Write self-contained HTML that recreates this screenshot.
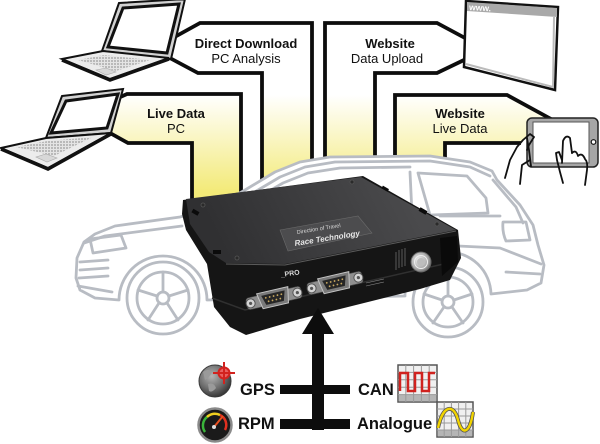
<!DOCTYPE html>
<html><head><meta charset="utf-8">
<style>
html,body{margin:0;padding:0;background:#fff;}
svg{display:block;}
text{font-family:"Liberation Sans",Arial,sans-serif;}
</style></head><body>
<svg width="600" height="444" viewBox="0 0 600 444" xmlns="http://www.w3.org/2000/svg">
<defs>
<linearGradient id="yel" gradientUnits="userSpaceOnUse" x1="0" y1="95" x2="0" y2="192">
<stop offset="0" stop-color="#ffffff"/>
<stop offset="1" stop-color="#f3ea78"/>
</linearGradient>
<linearGradient id="topg" gradientUnits="userSpaceOnUse" x1="400" y1="180" x2="230" y2="265">
<stop offset="0" stop-color="#4a4a4c"/>
<stop offset="1" stop-color="#303032"/>
</linearGradient>
<radialGradient id="globe" cx="0.4" cy="0.35" r="0.7">
<stop offset="0" stop-color="#b5b5b5"/>
<stop offset="0.6" stop-color="#6a6a6a"/>
<stop offset="1" stop-color="#2e2e2e"/>
</radialGradient>
<radialGradient id="btn" cx="0.4" cy="0.4" r="0.7">
<stop offset="0" stop-color="#f2f2f2"/>
<stop offset="0.7" stop-color="#a0a0a0"/>
<stop offset="1" stop-color="#555"/>
</radialGradient>
<pattern id="kb" width="3" height="3" patternUnits="userSpaceOnUse">
<rect width="3" height="3" fill="#e4e4e4"/><rect width="2" height="2" fill="#b9b9b9"/>
</pattern>
</defs>

<rect width="600" height="444" fill="#fff"/>

<!-- pipes fill -->
<g fill="url(#yel)">
<path d="M170,40 L200,23 L312,23 L312,240 L262,240 L262,73 L198,73 L168,57 Z"/>
<path d="M118,98 L127,94 L241,94 L241,240 L192,240 L192,143 L128,143 L110,133 Z"/>
<path d="M325,240 L325,23 L437,23 L465,38 L465,60 L437,73 L375,73 L375,240 Z"/>
<path d="M395,240 L395,95 L507,95 L550,118 L527,138 L519,143 L445,143 L445,240 Z"/>
</g>
<g fill="none" stroke="#0d0d0d" stroke-width="3.8" stroke-linejoin="miter">
<polyline points="171,39 200,23 312,23 312,240"/>
<polyline points="168,57 198,73 262,73 262,240"/>
<polyline points="118,98 127,94 241,94 241,240"/>
<polyline points="110,133 128,143 192,143 192,240"/>
<polyline points="325,240 325,23 437,23 465,38"/>
<polyline points="375,240 375,73 437,73 464,60"/>
<polyline points="395,240 395,95 507,95 551,119"/>
<polyline points="445,240 445,143 521,143"/>
</g>

<!-- top laptop -->
<polygon points="119,3 185,-1 171,59 102,51" fill="#d2d2d2" stroke="#111" stroke-width="2"/>
<polygon points="123,8 179,4 167,53 108,47" fill="#fff" stroke="#111" stroke-width="3"/>
<polygon points="62,59 103,51 169,58 110,79" fill="#ececec" stroke="#111" stroke-width="2"/>
<polygon points="78,60 104,55 150,60 116,71" fill="url(#kb)"/>
<polygon points="96,70 106,68 116,72 106,75" fill="#d8d8d8" stroke="#aaa" stroke-width="0.6"/>
<polyline points="62,60 110,80 169,59" fill="none" stroke="#111" stroke-width="3.5"/>

<!-- second laptop -->
<polygon points="62,96 123,89 111,133 46,138" fill="#d2d2d2" stroke="#111" stroke-width="2"/>
<polygon points="66,101 118,94 107,128 51,133" fill="#fff" stroke="#111" stroke-width="3"/>
<polygon points="1,148 46,138 111,133 48,168" fill="#ececec" stroke="#111" stroke-width="2"/>
<polygon points="16,147 47,141 93,137 54,156" fill="url(#kb)"/>
<polygon points="36,157 46,154 57,158 47,162" fill="#d8d8d8" stroke="#aaa" stroke-width="0.6"/>
<polyline points="1,149 48,169 111,134" fill="none" stroke="#111" stroke-width="3.5"/>

<!-- browser window -->
<polygon points="466,1 558,7 555,90 464,67" fill="#fff" stroke="#111" stroke-width="2.5"/>
<polygon points="467,2 557,8 557,17 467,11" fill="#a9a9a9"/>
<text x="469" y="10" font-size="8.5" fill="#fff" font-weight="bold" transform="rotate(3.5 469 10)">www.</text>
<polyline points="466,64 553,87 554,17" fill="none" stroke="#bbb" stroke-width="2"/>

<!-- tablet -->
<rect x="527" y="118" width="71" height="49" rx="5" fill="#a6a6a6" stroke="#222" stroke-width="1.5"/>
<rect x="533" y="122" width="56" height="41" fill="#fff" stroke="#555" stroke-width="1"/>
<circle cx="593.5" cy="142" r="2.3" fill="#fff" stroke="#111" stroke-width="1.2"/>
<!-- hands -->
<g fill="none" stroke="#111" stroke-width="1.8" stroke-linecap="round" stroke-linejoin="round">
<path d="M505,178 L510,160 L517,147 L523,140 L530,134 L534,137 L529,145 L527,150"/>
<path d="M527,138 L529,150 L531,166"/>
<path d="M520,184 L522,165 L530,160"/>
<path d="M563,183 L560,172 L557,160 L556,153 L559,152 L562,160"/>
<path d="M562,163 L563,141 Q566,134 570,138 L572,153"/>
<path d="M572,153 Q576,149 578,156 Q582,152 585,159 Q588,162 587,170 L585,185"/>
</g>

<!-- car -->
<g stroke="#b8bcc3" stroke-width="2.8" stroke-linejoin="round" stroke-linecap="round">
<path fill="#fff" d="M80,290 L76,278 L77,258 L84,242 L95,234 L115,226 L180,217 L215,207 L245,190 L275,172 L300,162 L330,157 L430,156 L470,162 L492,171 L497,180 L520,205 L533,225 L538,245 L544,265 L541,283 L527,290 L491,294 A43,43 0 0 0 405,296 L207,300 A44,44 0 0 0 119,300 L95,298 Z"/>
<g fill="none">
<path d="M248,196 L280,177 L305,167 L335,162 L430,161 L470,167 L490,176"/>
<path d="M252,201 L283,183 L308,173 L340,168 L410,167"/>
<path d="M84,243 L105,236 L182,226"/>
<path d="M90,239 L121,235 L126,248 L93,253 Z"/>
<path d="M80,262 L108,260 M80,270 L108,268 M79,278 L108,276"/>
<path d="M78,286 L112,292"/>
<path d="M418,173 L467,176 L486,198 L488,213 L430,215 Z"/>
<path d="M410,172 L412,214"/>
<path d="M493,180 L516,207 L523,223"/>
<path d="M503,222 L526,222 L530,240 L506,241 Q502,232 503,222 Z"/>
<path d="M458,246 L500,248 L541,264"/>
<path d="M506,272 L540,274"/>
<path d="M440,216 L500,216"/>
<circle cx="163" cy="298" r="36"/>
<circle cx="163" cy="298" r="26"/>
<circle cx="163" cy="298" r="6"/>
<path d="M163,292 L163,272 M169,296 L188,290 M167,303 L178,320 M159,303 L148,320 M157,296 L138,290"/>
<circle cx="448" cy="302" r="35"/>
<circle cx="448" cy="302" r="25"/>
<circle cx="448" cy="302" r="6"/>
<path d="M448,296 L448,277 M454,300 L472,294 M452,307 L463,323 M444,307 L433,323 M442,300 L424,294"/>
</g>
</g>

<!-- device -->
<path d="M183,200 L363,176 L458,230 L461,258 L450,280 L420,289 L300,319 L246,335 L230,327 L214,307 L207,264 L186,230 L182,214 Z" fill="#151515"/>
<path d="M186,199 L361,177 L456,230 L285,264 L226,263 L209,252 L190,224 Z" fill="url(#topg)"/>
<path d="M226,264 L285,265 L456,231" fill="none" stroke="#5c5c5c" stroke-width="1"/>
<path d="M212,298 L245,310 L325,291 L448,263" fill="none" stroke="#303030" stroke-width="1.5"/>
<path d="M440,238 L457,236 L458,262 L442,276 Z" fill="#0a0a0a"/>
<!-- clips and dimples -->
<g fill="#0b0b0b">
<rect x="192" y="210" width="7" height="4" transform="rotate(30 195 212)"/>
<rect x="213" y="250" width="8" height="4"/>
<rect x="382" y="187" width="7" height="3" transform="rotate(30 385 188)"/>
<rect x="419" y="209" width="8" height="4" transform="rotate(30 423 211)"/>
</g>
<g fill="#2a2a2a" stroke="#555" stroke-width="0.8">
<circle cx="203" cy="205" r="2"/><circle cx="237" cy="258" r="2"/>
<circle cx="352" cy="182" r="2"/><circle cx="437" cy="224" r="2"/>
</g>
<!-- plate -->
<polygon points="280,230 358,216 372,233 288,251" fill="#4c4c4e" stroke="#6a6a6a" stroke-width="0.6"/>
<text x="297" y="234" font-size="5.5" fill="#d8d8d8" transform="rotate(-9 297 234)">Direction of Travel</text>
<text x="295" y="246" font-size="8" fill="#e6e6e6" font-weight="bold" font-style="italic" font-family="Liberation Serif, serif" transform="rotate(-9 295 246)">Race Technology</text>
<text x="281" y="277" font-size="7" fill="#ddd" font-weight="bold" transform="rotate(-8 281 277)">_PRO</text>
<!-- connectors -->
<g transform="translate(274,298) rotate(-13)">
<rect x="-28" y="-6" width="56" height="12" rx="3" fill="#8f8f8f" stroke="#444" stroke-width="0.6"/>
<path d="M-16,-8 L16,-8 L13,8 L-13,8 Z" fill="#7a7a7a" stroke="#c4c4c4" stroke-width="1"/>
<path d="M-12,-5 L12,-5 L9,5 L-9,5 Z" fill="#262626"/>
<g fill="#c8a860"><circle cx="-8" cy="-2" r="0.9"/><circle cx="-4" cy="-2" r="0.9"/><circle cx="0" cy="-2" r="0.9"/><circle cx="4" cy="-2" r="0.9"/><circle cx="8" cy="-2" r="0.9"/><circle cx="-6" cy="2" r="0.9"/><circle cx="-2" cy="2" r="0.9"/><circle cx="2" cy="2" r="0.9"/><circle cx="6" cy="2" r="0.9"/></g>
<circle cx="-24" cy="0" r="4.5" fill="#d4d4d4" stroke="#555" stroke-width="1"/>
<circle cx="24" cy="0" r="4.5" fill="#d4d4d4" stroke="#555" stroke-width="1"/>
<circle cx="-24" cy="0" r="1.6" fill="#555"/><circle cx="24" cy="0" r="1.6" fill="#555"/>
</g>
<g transform="translate(335,283) rotate(-13)">
<rect x="-28" y="-6" width="56" height="12" rx="3" fill="#8f8f8f" stroke="#444" stroke-width="0.6"/>
<path d="M-16,-8 L16,-8 L13,8 L-13,8 Z" fill="#7a7a7a" stroke="#c4c4c4" stroke-width="1"/>
<path d="M-12,-5 L12,-5 L9,5 L-9,5 Z" fill="#262626"/>
<g fill="#c8a860"><circle cx="-8" cy="-2" r="0.9"/><circle cx="-4" cy="-2" r="0.9"/><circle cx="0" cy="-2" r="0.9"/><circle cx="4" cy="-2" r="0.9"/><circle cx="8" cy="-2" r="0.9"/><circle cx="-6" cy="2" r="0.9"/><circle cx="-2" cy="2" r="0.9"/><circle cx="2" cy="2" r="0.9"/><circle cx="6" cy="2" r="0.9"/></g>
<circle cx="-24" cy="0" r="4.5" fill="#d4d4d4" stroke="#555" stroke-width="1"/>
<circle cx="24" cy="0" r="4.5" fill="#d4d4d4" stroke="#555" stroke-width="1"/>
<circle cx="-24" cy="0" r="1.6" fill="#555"/><circle cx="24" cy="0" r="1.6" fill="#555"/>
</g>
<g stroke="#888" stroke-width="0.6" fill="none">
<path d="M396,252 L396,270 M399,250 L399,268 M402,249 L402,267 M405,248 L405,266"/>
<path d="M366,283 L384,279 M366,286 L384,282"/>
</g>
<circle cx="421" cy="262" r="10" fill="url(#btn)" stroke="#666" stroke-width="1"/>
<circle cx="421" cy="262" r="6.5" fill="none" stroke="#eee" stroke-width="1"/>
<circle cx="421" cy="262" r="4" fill="#bdbdbd"/>

<!-- arrow and bars -->
<g fill="#0d0d0d">
<polygon points="318,308 302,334 334,334"/>
<rect x="312" y="330" width="12" height="100"/>
<rect x="280" y="385" width="70" height="9"/>
<rect x="280" y="419" width="70" height="10"/>
</g>

<!-- labels -->
<g fill="#111" text-anchor="middle">
<text x="246" y="48" font-size="13" font-weight="bold">Direct Download</text>
<text x="246" y="63" font-size="13">PC Analysis</text>
<text x="176" y="118" font-size="13" font-weight="bold">Live Data</text>
<text x="176" y="133" font-size="13">PC</text>
<text x="390" y="48" font-size="13" font-weight="bold">Website</text>
<text x="387" y="63" font-size="13">Data Upload</text>
<text x="460" y="118" font-size="13" font-weight="bold">Website</text>
<text x="460" y="133" font-size="13">Live Data</text>
</g>
<g fill="#111" font-weight="bold" font-size="16.5">
<text x="240" y="395">GPS</text>
<text x="238" y="429">RPM</text>
<text x="358" y="395">CAN</text>
<text x="357" y="429">Analogue</text>
</g>

<!-- GPS icon -->
<circle cx="215" cy="381" r="16" fill="url(#globe)" stroke="#3a3a3a" stroke-width="1"/>
<path d="M203,372 Q208,368 212,372 Q209,378 205,380 Z M208,384 Q214,382 216,388 Q212,393 209,391 Z" fill="#9a9a9a"/>
<g stroke="#d2221e" stroke-width="2" fill="none">
<circle cx="224" cy="373" r="5.5" fill="#e86060"/>
<path d="M213,373 L235,373 M224,362 L224,384"/>
</g>
<!-- RPM icon -->
<circle cx="215" cy="425" r="16.5" fill="#1a1a1a" stroke="#8a8a8a" stroke-width="2.5"/>
<path d="M205,432 A11,11 0 0 1 207,417" fill="none" stroke="#3bb53b" stroke-width="2.5"/>
<path d="M207,417 A11,11 0 0 1 220,415" fill="none" stroke="#f0d020" stroke-width="2.5"/>
<path d="M220,415 A11,11 0 0 1 225,430" fill="none" stroke="#e03020" stroke-width="2.5"/>
<line x1="214" y1="427" x2="223" y2="416" stroke="#e85020" stroke-width="2"/>
<circle cx="214" cy="427" r="2" fill="#ddd"/>

<!-- CAN icon -->
<rect x="398" y="365" width="39" height="37" fill="#f0f0f0" stroke="#555" stroke-width="1.5"/>
<rect x="398.7" y="394.6" width="37.6" height="6.7" fill="#b5b5b5"/>
<g stroke="#9a9a9a" stroke-width="1">
<path d="M405.8,365 V402 M413.6,365 V402 M421.4,365 V402 M429.2,365 V402 M398,372.4 H437 M398,379.8 H437 M398,387.2 H437 M398,394.6 H437"/>
</g>
<path d="M400,391 V373 H408 V391 H415 V373 H422 V391 H429 V373 H435" fill="none" stroke="#d0221e" stroke-width="2.5"/>

<!-- Analogue icon -->
<rect x="437" y="402" width="36" height="35" fill="#f0f0f0" stroke="#555" stroke-width="1.5"/>
<rect x="437.7" y="430" width="34.6" height="6.3" fill="#b5b5b5"/>
<g stroke="#9a9a9a" stroke-width="1">
<path d="M444.2,402 V437 M451.4,402 V437 M458.6,402 V437 M465.8,402 V437 M437,409 H473 M437,416 H473 M437,423 H473 M437,430 H473"/>
</g>
<path d="M438,428 C443,404 454,404 458,420 C462,436 470,434 473,412" fill="none" stroke="#555" stroke-width="4"/>
<path d="M438,428 C443,404 454,404 458,420 C462,436 470,434 473,412" fill="none" stroke="#f2d400" stroke-width="2.4"/>
</svg>
</body></html>
